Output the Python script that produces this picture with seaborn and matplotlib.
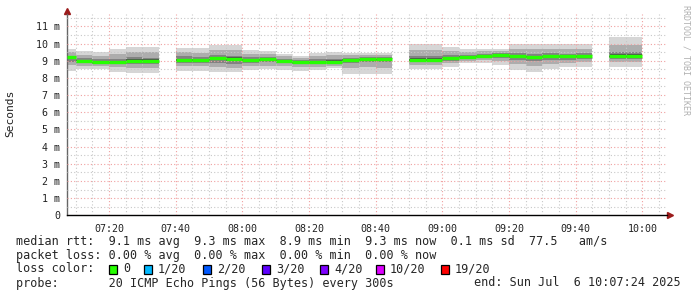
import numpy as np
import pandas as pd
import matplotlib
matplotlib.use("Agg")
import matplotlib.pyplot as plt
import matplotlib.transforms as mtransforms
from matplotlib.patches import Rectangle
import seaborn as sns

# ---------------- data (RTT in ms, one value per 5-minute step, labelled by step end) -------------
step_end = ["07:10", "07:15", "07:20", "07:25", "07:30", "07:35", "07:40", "07:45", "07:50",
            "07:55", "08:00", "08:05", "08:10", "08:15", "08:20", "08:25", "08:30", "08:35",
            "08:40", "08:45", "08:50", "08:55", "09:00", "09:05", "09:10", "09:15", "09:20",
            "09:25", "09:30", "09:35", "09:40", "09:45", "09:50", "09:55", "10:00"]
nan = np.nan
rtt_median = [9.21, 9.00, 8.92, 8.90, 9.00, 9.00, nan, 9.02, 9.02, 9.16, 9.12, 9.04, 9.08, 8.98,
              8.92, 8.92, 8.95, 9.02, 9.11, 9.11, nan, 9.06, 9.06, 9.16, 9.24, 9.30, 9.35, 9.27,
              9.20, 9.27, 9.25, 9.29, nan, 9.29, 9.29]
rtt_min = [8.42, 8.53, 8.52, 8.36, 8.30, 8.30, nan, 8.40, 8.40, 8.34, 8.34, 8.46, 8.53, 8.47,
           8.38, 8.45, 8.57, 8.22, 8.22, 8.22, nan, 8.50, 8.50, 8.65, 8.85, 8.85, 8.75, 8.46,
           8.34, 8.50, 8.61, 8.61, nan, 8.65, 8.65]
rtt_p10 = [8.75, 8.72, 8.68, 8.62, 8.60, 8.58, nan, 8.70, 8.68, 8.62, 8.60, 8.68, 8.72, 8.68,
           8.62, 8.65, 8.72, 8.60, 8.62, 8.60, nan, 8.75, 8.74, 8.85, 9.00, 9.02, 8.98, 8.80,
           8.72, 8.82, 8.88, 8.90, nan, 8.95, 8.95]
rtt_p25 = [8.95, 8.88, 8.80, 8.78, 8.80, 8.80, nan, 8.88, 8.86, 8.85, 8.82, 8.86, 8.90, 8.85,
           8.80, 8.80, 8.84, 8.85, 8.90, 8.90, nan, 8.92, 8.92, 9.00, 9.12, 9.15, 9.15, 9.05,
           8.98, 9.05, 9.05, 9.08, nan, 9.12, 9.12]
rtt_p75 = [9.30, 9.15, 9.10, 9.12, 9.20, 9.18, nan, 9.25, 9.22, 9.35, 9.30, 9.20, 9.22, 9.10,
           9.02, 9.08, 9.12, 9.15, 9.22, 9.22, nan, 9.30, 9.28, 9.32, 9.35, 9.40, 9.45, 9.45,
           9.40, 9.45, 9.42, 9.45, nan, 9.50, 9.50]
rtt_p90 = [9.50, 9.35, 9.28, 9.40, 9.50, 9.48, nan, 9.50, 9.45, 9.62, 9.60, 9.42, 9.40, 9.25,
           9.15, 9.28, 9.32, 9.32, 9.36, 9.36, nan, 9.62, 9.60, 9.55, 9.50, 9.54, 9.56, 9.70,
           9.68, 9.70, 9.68, 9.70, nan, 9.90, 9.90]
rtt_max = [9.66, 9.56, 9.49, 9.68, 9.81, 9.81, nan, 9.74, 9.72, 9.89, 9.89, 9.64, 9.56, 9.39,
           9.27, 9.47, 9.50, 9.47, 9.47, 9.47, nan, 9.97, 9.97, 9.78, 9.66, 9.66, 9.66, 9.97,
           9.97, 9.97, 9.97, 9.97, nan, 10.36, 10.36]

x_tick_labels = ["07:20", "07:40", "08:00", "08:20", "08:40", "09:00", "09:20", "09:40", "10:00"]
loss_labels = ["0", "1/20", "2/20", "3/20", "4/20", "10/20", "19/20"]
loss_colors = ["#26ff00", "#00b8ff", "#0059ff", "#5e00ff", "#7e00ff", "#dd00ff", "#ff0000"]

stats_line1 = "median rtt:  9.1 ms avg  9.3 ms max  8.9 ms min  9.3 ms now  0.1 ms sd  77.5   am/s"
stats_line2 = "packet loss: 0.00 % avg  0.00 % max  0.00 % min  0.00 % now"
probe_line = "probe:       20 ICMP Echo Pings (56 Bytes) every 300s"
end_line = "end: Sun Jul  6 10:07:24 2025"

# ---------------- helpers ----------------
def to_min(s):
    h, m = s.split(":")
    return int(h) * 60 + int(m) - 7 * 60  # minutes after 07:00

t_end = np.array([to_min(s) for s in step_end], dtype=float)
t_start = t_end - 5.0
x_lo, x_hi = 7.4, 187.4   # 07:07:24 .. 10:07:24

sns.set_theme(style="white")
MONO = "DejaVu Sans Mono"
plt.rcParams["font.family"] = [MONO, "DejaVu Sans"]

W, H = 697, 297
fig = plt.figure(figsize=(W / 100, H / 100), dpi=100)
fig.patch.set_facecolor("white")
ax = fig.add_axes([67 / W, (H - 215.3) / H, 600 / W, (215.3 - 14) / H])
ax.set_facecolor("white")

# smoke layers (outer light -> inner dark)
layers = [(rtt_min, rtt_max, "#d6d6d6"), (rtt_p10, rtt_p90, "#adadad"),
          (rtt_p25, rtt_p75, "#828282")]
for lo, hi, col in layers:
    lo = np.array(lo); hi = np.array(hi)
    ax.bar(t_start, hi - lo, bottom=lo, width=5.0, align="edge", color=col,
           linewidth=0, zorder=1)
# dark core around median
med = np.array(rtt_median)
ax.bar(t_start, (np.array(rtt_p75) - med) * 0.45 + (med - np.array(rtt_p25)) * 0.45,
       bottom=med - (med - np.array(rtt_p25)) * 0.45, width=5.0, align="edge",
       color="#505050", linewidth=0, zorder=1)

# median line per step (seaborn)
rows = []
for i, (a, b, m) in enumerate(zip(t_start, t_end, rtt_median)):
    if not np.isnan(m):
        rows.append({"t": max(a, x_lo), "rtt": m, "step": i})
        rows.append({"t": b, "rtt": m, "step": i})
df = pd.DataFrame(rows)

# axes / grid (grid drawn over smoke, under the median line)
ax.set_xlim(x_lo, x_hi)
ax.set_ylim(0, 11.72)
ax.set_xticks([to_min(s) for s in x_tick_labels])
ax.set_xticklabels(x_tick_labels)
ax.set_xticks(np.arange(10, 186, 5), minor=True)
yt = np.arange(0, 12)
ax.set_yticks(yt)
ax.set_yticklabels(["0" if v == 0 else f"{v} m" for v in yt])
ax.set_yticks(np.arange(0.5, 11.6, 1.0), minor=True)
ax.set_axisbelow(False)
ax.grid(which="minor", color="#c8c8c8", linestyle=(0, (1, 2)), linewidth=0.8)
ax.grid(which="major", color="#f0a0a0", linestyle=(0, (1, 2)), linewidth=0.8)

sns.lineplot(data=df, x="t", y="rtt", units="step", estimator=None, color="#26ff00",
             linewidth=2.4, ax=ax, legend=False, zorder=3, solid_capstyle="butt")
ax.set_xlim(x_lo, x_hi)
ax.set_ylim(0, 11.72)

ax.set_xlabel("")
ax.set_ylabel("")
ax.tick_params(axis="both", which="major", labelsize=7.2, length=2, width=0.6,
               color="#888888", pad=3)
ax.tick_params(axis="both", which="minor", length=1.5, width=0.6, color="#888888")
ax.tick_params(axis="x", which="major", pad=4)
for lab in ax.get_xticklabels() + ax.get_yticklabels():
    lab.set_family(MONO)
    lab.set_color("#222222")
sns.despine(ax=ax, top=True, right=True)
ax.spines["left"].set_color("#666666")
ax.spines["left"].set_linewidth(1.0)
ax.spines["bottom"].set_color("#000000")
ax.spines["bottom"].set_linewidth(1.0)

# axis arrows
up = mtransforms.offset_copy(ax.transAxes, fig=fig, x=0, y=3, units="dots")
ax.plot([0], [1], marker="^", markersize=4.5, color="#9b1b1b", transform=up, clip_on=False)
rt = mtransforms.offset_copy(ax.transAxes, fig=fig, x=3, y=0, units="dots")
ax.plot([1], [0], marker=">", markersize=4.5, color="#9b1b1b", transform=rt, clip_on=False)

# labels
fig.text(10 / W, 1 - 113 / H, "Seconds", rotation=90, ha="center", va="center",
         fontsize=8.1, family=MONO, color="#222222")
fig.text(686 / W, 1 - 5 / H, "RRDTOOL / TOBI OETIKER", rotation=270, ha="center", va="top",
         fontsize=6.0, family=MONO, color="#b0b0b0")

fs = 8.5
fig.text(16 / W, 1 - 241 / H, stats_line1, ha="left", va="center", fontsize=fs, family=MONO)
fig.text(16 / W, 1 - 255 / H, stats_line2, ha="left", va="center", fontsize=fs, family=MONO)
fig.text(16 / W, 1 - 269 / H, "loss color:", ha="left", va="center", fontsize=fs, family=MONO)
sq_x = [109, 144, 203, 262, 320, 376, 441]
for x, lab, col in zip(sq_x, loss_labels, loss_colors):
    fig.patches.append(Rectangle((x / W, (H - 274) / H), 8 / W, 9 / H, transform=fig.transFigure,
                                 facecolor=col, edgecolor="black", linewidth=0.9))
    fig.text((x + 14) / W, 1 - 269 / H, lab, ha="left", va="center", fontsize=fs, family=MONO)
fig.text(16 / W, 1 - 283 / H, probe_line, ha="left", va="center", fontsize=fs, family=MONO)
fig.text(681 / W, 1 - 283 / H, end_line, ha="right", va="center", fontsize=fs, family=MONO)

fig.savefig("out.png", dpi=100, facecolor="white")
